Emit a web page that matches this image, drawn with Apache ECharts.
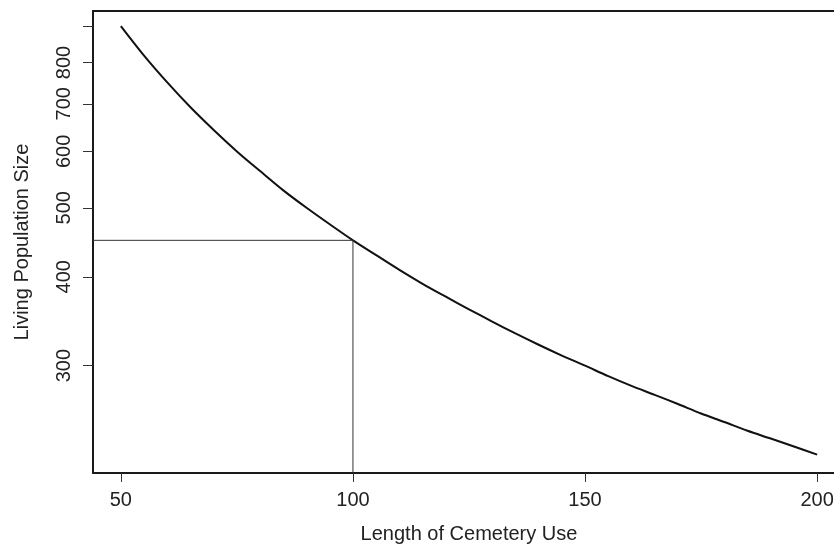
<!DOCTYPE html>
<html>
<head>
<meta charset="utf-8">
<script src="https://cdn.jsdelivr.net/npm/echarts@6/dist/echarts.min.js"></script>
<style>
  html, body { margin: 0; padding: 0; background: #fff; }
  #chart { width: 834px; height: 544px; }
</style>
</head>
<body>
<div id="chart"></div>
<script>
// Years the cemetery was in use
const useLength = [50, 55, 60, 65, 70, 75, 80, 85, 90, 95, 100, 105, 110, 115, 120, 125,
                   130, 135, 140, 145, 150, 155, 160, 165, 170, 175, 180, 185, 190, 195, 200];
// Estimated living population for each length of use
const population = [900, 818, 750, 692, 643, 600, 563, 529, 500, 474, 450, 429, 409, 391, 375, 360,
                    346, 333, 321, 310, 300, 290, 281, 273, 265, 257, 250, 243, 237, 231, 225];

const xTicks = [50, 100, 150, 200];
const yTicks = [300, 400, 500, 600, 700, 800, 900];
const yTickLabels = [300, 400, 500, 600, 700, 800];

// Highlighted reading: 100 years of use
const guideX = 100;
const guideY = 450;

const xMin = 44, xMax = 206;
const yMin = 212, yMax = 945;

const FONT = '"Liberation Sans", Arial, Helvetica, sans-serif';
const TXT = '#222';
const FS = 20;
const frameLine = { show: true, onZero: false, lineStyle: { color: '#1a1a1a', width: 2 } };

const chart = echarts.init(document.getElementById('chart'), null, { renderer: 'canvas' });

chart.setOption({
  animation: false,
  backgroundColor: '#fff',
  grid: {
    left: 93, top: 11, right: -11, bottom: 71,
    outerBoundsMode: 'none', show: false, containLabel: false
  },
  xAxis: [
    {
      type: 'value', min: xMin, max: xMax, position: 'bottom',
      name: 'Length of Cemetery Use', nameLocation: 'middle', nameGap: 51,
      nameTextStyle: { fontFamily: FONT, fontSize: FS, color: TXT },
      axisLine: frameLine,
      splitLine: { show: false },
      axisTick: { show: true, length: 9, inside: false, customValues: xTicks,
                  lineStyle: { color: '#333', width: 1 } },
      axisLabel: { customValues: xTicks, margin: 17, fontFamily: FONT, fontSize: FS, color: TXT }
    },
    {
      // top edge of the plot frame
      type: 'value', min: xMin, max: xMax, position: 'top',
      axisLine: frameLine,
      axisTick: { show: false }, axisLabel: { show: false }, splitLine: { show: false }
    }
  ],
  yAxis: {
    type: 'log', logBase: 10, min: yMin, max: yMax,
    name: 'Living Population Size', nameLocation: 'middle', nameGap: 61, nameRotate: 90,
    nameTextStyle: { fontFamily: FONT, fontSize: FS, color: TXT },
    axisLine: frameLine,
    splitLine: { show: false },
    minorTick: { show: false },
    axisTick: { show: true, length: 10, customValues: yTicks,
                lineStyle: { color: '#333', width: 1 } },
    axisLabel: { customValues: yTickLabels, rotate: 90, margin: 19,
                 fontFamily: FONT, fontSize: FS, color: TXT }
  },
  series: [
    {
      type: 'line',
      data: useLength.map((t, i) => [t, population[i]]),
      showSymbol: false, smooth: 0.3,
      lineStyle: { color: '#111', width: 2 },
      silent: true
    },
    {
      type: 'line',
      data: [[xMin, guideY], [guideX, guideY], [guideX, yMin]],
      showSymbol: false,
      lineStyle: { color: '#333', width: 1 },
      silent: true
    }
  ]
});
</script>
</body>
</html>
